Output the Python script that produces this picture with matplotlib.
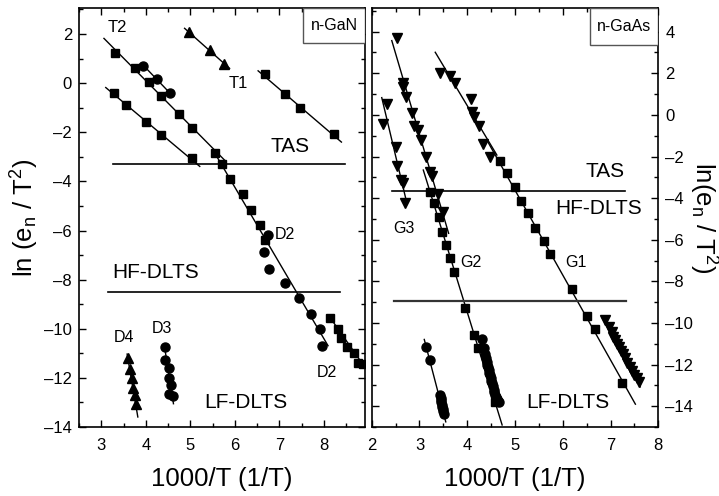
import numpy as np
import matplotlib.pyplot as plt
from matplotlib.patches import Rectangle
from matplotlib.ticker import MultipleLocator, FuncFormatter

plt.rcParams['font.family'] = ['Liberation Sans', 'DejaVu Sans']
plt.rcParams['mathtext.fontset'] = 'custom'
plt.rcParams['mathtext.rm'] = 'Liberation Sans'
plt.rcParams['mathtext.it'] = 'Liberation Sans:italic'

# ---- n-GaN (left panel) ----
t2a_x = [3.30, 3.75, 4.07, 4.35, 4.74, 5.04, 5.55, 5.70, 5.90, 6.18, 6.35, 6.57, 6.67]
t2a_y = [1.24, 0.60, 0.05, -0.52, -1.24, -1.82, -2.84, -3.28, -3.91, -4.50, -5.16, -5.77, -6.37]
t2c_x = [3.93, 4.24, 4.54]
t2c_y = [0.69, 0.16, -0.42]
t2b_x = [3.28, 3.56, 4.01, 4.35, 5.04]
t2b_y = [-0.40, -0.91, -1.59, -2.12, -3.03]
t1a_x = [4.97, 5.45, 5.75]
t1a_y = [2.09, 1.35, 0.76]
t1b_x = [6.67, 7.12, 7.47, 8.23]
t1b_y = [0.36, -0.45, -1.03, -2.08]
d2c_x = [6.74, 6.65, 6.76, 7.12, 7.44, 7.70, 7.92, 7.96]
d2c_y = [-6.18, -6.89, -7.56, -8.15, -8.76, -9.38, -10.01, -10.69]
d2s_x = [8.13, 8.32, 8.38, 8.51, 8.68, 8.77, 8.88]
d2s_y = [-9.56, -10.01, -10.36, -10.76, -10.99, -11.40, -11.45]
d4_x = [3.60, 3.64, 3.69, 3.71, 3.75, 3.79]
d4_y = [-11.17, -11.64, -11.99, -12.40, -12.69, -13.05]
d3_x = [4.44, 4.42, 4.51, 4.53, 4.57, 4.51, 4.61]
d3_y = [-10.76, -11.27, -11.58, -11.99, -12.29, -12.67, -12.73]

# fitted lines (start, end)
gan_fits = [([3.06, 5.77], [1.82, -3.14]),
            ([3.93, 4.58], [0.75, -0.48]),
            ([3.10, 5.21], [-0.18, -3.39]),
            ([4.87, 5.88], [2.23, 0.60]),
            ([6.52, 8.39], [0.50, -2.40]),
            ([5.59, 8.09], [-2.98, -10.69]),
            ([8.10, 8.93], [-9.45, -11.60]),
            ([3.58, 3.82], [-11.03, -13.59]),
            ([4.41, 4.62], [-10.62, -13.05])]
gan_tas = -3.28
gan_hf = -8.49

# ---- n-GaAs (right panel) ----
g3_x = [2.31, 2.23, 2.51, 2.52, 2.62, 2.65, 2.70]
g3_y = [0.52, -0.44, -1.56, -2.44, -3.13, -3.29, -4.25]
g2t_x = [2.52, 2.66, 2.65, 2.72, 2.84, 2.89, 2.96, 3.03, 3.14, 3.22, 3.26, 3.38, 3.50]
g2t_y = [3.68, 1.55, 1.33, 0.88, 0.08, -0.53, -0.73, -1.21, -2.01, -2.73, -2.92, -3.82, -4.65]
g2s_x = [3.22, 3.31, 3.40, 3.48, 3.56, 3.64, 3.73, 3.96, 4.14, 4.23, 4.59]
g2s_y = [-3.69, -4.25, -4.89, -5.62, -6.25, -6.89, -7.54, -9.30, -10.58, -11.22, -13.82]
g2c_x = [4.31, 4.36, 4.38, 4.40, 4.41, 4.42, 4.43, 4.45, 4.46, 4.47, 4.49, 4.50,
         4.52, 4.53, 4.55, 4.57, 4.58, 4.60, 4.62, 4.64, 4.66]
g2c_y = [-10.77, -11.22, -11.50, -11.70, -11.85, -12.00, -12.10, -12.25, -12.40, -12.50,
         -12.65, -12.80, -12.90, -13.05, -13.20, -13.30, -13.45, -13.55, -13.65, -13.75, -13.80]
g3c_x = [3.14, 3.22, 3.43, 3.44, 3.45, 3.46, 3.47, 3.48, 3.49, 3.50, 3.51]
g3c_y = [-11.14, -11.78, -13.45, -13.60, -13.70, -13.80, -13.95, -14.05, -14.15, -14.25, -14.35]
g1t_x = [3.43, 3.63, 3.75, 4.08, 4.10, 4.15, 4.25, 4.34, 4.47]
g1t_y = [2.03, 1.87, 1.52, 0.76, 0.14, -0.09, -0.53, -1.40, -2.04]
g1s_x = [4.69, 4.84, 5.00, 5.13, 5.28, 5.42, 5.60, 5.74, 6.19, 6.51, 6.67, 7.24]
g1s_y = [-2.22, -2.81, -3.48, -4.14, -4.73, -5.42, -6.04, -6.69, -8.38, -9.67, -10.31, -12.90]
g1d_x = [6.88, 6.97, 7.02, 7.06, 7.10, 7.14, 7.18, 7.22, 7.26, 7.30, 7.35, 7.40,
         7.45, 7.50, 7.55, 7.59]
g1d_y = [-9.85, -10.20, -10.45, -10.65, -10.80, -11.00, -11.15, -11.35, -11.50, -11.70,
         -11.90, -12.10, -12.30, -12.50, -12.65, -12.85]

gaas_fits = [([2.21, 2.72], [0.83, -4.09]),
             ([2.42, 3.61], [3.57, -5.69]),
             ([3.08, 4.73], [-2.65, -14.9]),
             ([4.27, 4.73], [-10.82, -13.87]),
             ([3.10, 3.55], [-10.79, -14.75]),
             ([3.33, 4.62], [3.01, -1.93]),
             ([4.41, 7.52], [-1.21, -13.90]),
             ([6.82, 7.62], [-9.73, -13.07])]
gaas_tas = -3.64
gaas_hf = -8.95

fig = plt.figure(figsize=(7.19, 4.96), dpi=100)
ax1 = fig.add_axes([0.1099, 0.139, 0.3984, 0.845])
ax2 = fig.add_axes([0.517, 0.139, 0.3986, 0.845])

ms = dict(color='k', linestyle='none')

# left panel
for fx, fy in gan_fits:
    ax1.plot(fx, fy, color='k', lw=1.0)
ax1.plot([3.26, 8.48], [gan_tas, gan_tas], color='k', lw=1.2)
ax1.plot([3.15, 8.36], [gan_hf, gan_hf], color='k', lw=1.2)
ax1.plot(t2a_x, t2a_y, marker='s', markersize=6, **ms)
ax1.plot(t2b_x, t2b_y, marker='s', markersize=6, **ms)
ax1.plot(t2c_x, t2c_y, marker='o', markersize=6.5, **ms)
ax1.plot(t1a_x, t1a_y, marker='^', markersize=7.5, **ms)
ax1.plot(t1b_x, t1b_y, marker='s', markersize=6, **ms)
ax1.plot(d2c_x, d2c_y, marker='o', markersize=6.5, **ms)
ax1.plot(d2s_x, d2s_y, marker='s', markersize=6, **ms)
ax1.plot(d4_x, d4_y, marker='^', markersize=7.5, **ms)
ax1.plot(d3_x, d3_y, marker='o', markersize=6.5, **ms)

ax1.text(3.35, 2.25, 'T2', fontsize=12, ha='center', va='center')
ax1.text(6.08, 0.0, 'T1', fontsize=12, ha='center', va='center')
ax1.text(7.23, -2.56, 'TAS', fontsize=15, ha='center', va='center')
ax1.text(7.12, -6.18, 'D2', fontsize=11.5, ha='center', va='center')
ax1.text(4.21, -7.70, 'HF-DLTS', fontsize=15, ha='center', va='center')
ax1.text(8.06, -11.78, 'D2', fontsize=11.5, ha='center', va='center')
ax1.text(3.52, -10.35, 'D4', fontsize=11.5, ha='center', va='center')
ax1.text(4.36, -9.97, 'D3', fontsize=11.5, ha='center', va='center')
ax1.text(6.24, -13.0, 'LF-DLTS', fontsize=15, ha='center', va='center')

ax1.add_patch(Rectangle((0.782, 0.916), 0.218, 0.084, transform=ax1.transAxes,
                        facecolor='white', edgecolor='#555555', lw=1.0, zorder=5))
ax1.text(0.891, 0.958, 'n-GaN', transform=ax1.transAxes, fontsize=11.5,
         ha='center', va='center', zorder=6)

ax1.set_xlim(2.5, 8.93)
ax1.set_ylim(-14, 3.06)
ax1.set_xlabel('1000/T (1/T)', fontsize=18.5, labelpad=10)
ax1.set_ylabel('ln (e$_\\mathregular{n}$ / T$^\\mathregular{2}$)', fontsize=18.5, labelpad=2)

# right panel
for fx, fy in gaas_fits:
    ax2.plot(fx, fy, color='k', lw=1.0)
ax2.plot([2.43, 7.30], [gaas_tas, gaas_tas], color='k', lw=1.2)
ax2.plot([2.47, 7.32], [gaas_hf, gaas_hf], color='#333333', lw=1.6)
ax2.plot(g3_x, g3_y, marker='v', markersize=7.5, **ms)
ax2.plot(g2t_x, g2t_y, marker='v', markersize=7.5, **ms)
ax2.plot(g2s_x, g2s_y, marker='s', markersize=6, **ms)
ax2.plot(g2c_x, g2c_y, marker='o', markersize=6.5, **ms)
ax2.plot(g3c_x, g3c_y, marker='o', markersize=6.5, **ms)
ax2.plot(g1t_x, g1t_y, marker='v', markersize=7.5, **ms)
ax2.plot(g1s_x, g1s_y, marker='s', markersize=6, **ms)
ax2.plot(g1d_x, g1d_y, marker='v', markersize=7.5, **ms)

ax2.text(6.89, -2.73, 'TAS', fontsize=15, ha='center', va='center')
ax2.text(6.75, -4.49, 'HF-DLTS', fontsize=15, ha='center', va='center')
ax2.text(2.68, -5.45, 'G3', fontsize=11.5, ha='center', va='center')
ax2.text(4.08, -7.10, 'G2', fontsize=11.5, ha='center', va='center')
ax2.text(6.28, -7.10, 'G1', fontsize=11.5, ha='center', va='center')
ax2.text(6.10, -13.82, 'LF-DLTS', fontsize=15, ha='center', va='center')

ax2.add_patch(Rectangle((0.762, 0.912), 0.238, 0.088, transform=ax2.transAxes,
                        facecolor='white', edgecolor='#555555', lw=1.0, zorder=5))
ax2.text(0.881, 0.956, 'n-GaAs', transform=ax2.transAxes, fontsize=11.5,
         ha='center', va='center', zorder=6)

ax2.set_xlim(2, 8)
ax2.set_ylim(-15, 5.14)
ax2.set_xlabel('1000/T (1/T)', fontsize=18.5, labelpad=10)
ax2.yaxis.set_label_position('right')
ax2.set_ylabel('ln(e$_\\mathregular{n}$ / T$^\\mathregular{2}$)', fontsize=18.5,
               rotation=270, va='center', ha='center')
ax2.yaxis.set_label_coords(1.155, 0.5)

dash_fmt = FuncFormatter(lambda v, p: ('%g' % v).replace('-', '\u2013'))

for ax in (ax1, ax2):
    ax.xaxis.set_major_locator(MultipleLocator(1))
    ax.xaxis.set_minor_locator(MultipleLocator(0.5))
    ax.yaxis.set_major_locator(MultipleLocator(2))
    ax.yaxis.set_minor_locator(MultipleLocator(1))
    ax.yaxis.set_major_formatter(dash_fmt)
    ax.tick_params(which='both', direction='in', top=True, right=True, labelsize=12)
    ax.tick_params(which='major', length=5, width=1.0)
    ax.tick_params(which='minor', length=3, width=1.0)
    ax.tick_params(axis='x', pad=8)
    ax.tick_params(axis='y', pad=5)
    for s in ax.spines.values():
        s.set_linewidth(1.2)

ax2.tick_params(labelleft=False, labelright=True)

fig.savefig('out.png', dpi=100)
